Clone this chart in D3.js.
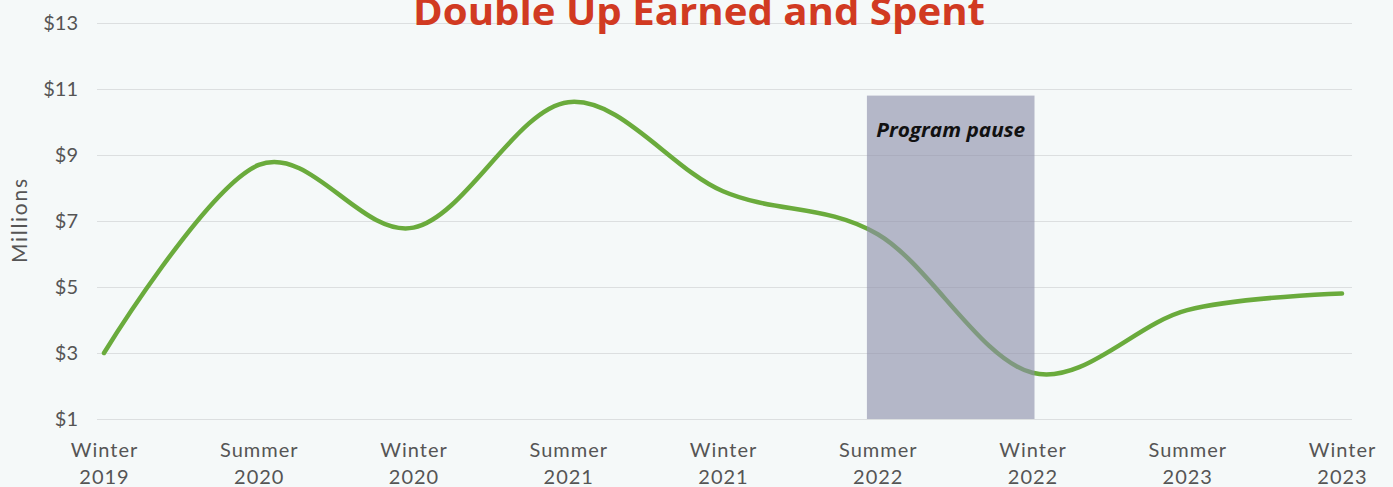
<!DOCTYPE html>
<html>
<head>
<meta charset="utf-8">
<script src="https://cdn.jsdelivr.net/npm/d3@7"></script>
<style>
  html, body { margin: 0; padding: 0; background: #f5f9f9; }
  svg { display: block; }
</style>
</head>
<body>
<div id="chart"></div>
<script>
// seasons along the x axis, two-line labels
const seasons = ["Winter 2019", "Summer 2020", "Winter 2020", "Summer 2021", "Winter 2021",
                 "Summer 2022", "Winter 2022", "Summer 2023", "Winter 2023"];
// Double Up earned and spent, millions of dollars
const amounts = [3.0, 8.7, 6.8, 10.6, 7.9, 6.6, 2.4, 4.3, 4.8];
const yTicks = [1, 3, 5, 7, 9, 11, 13];
const pauseRange = ["Summer 2022", "Winter 2022"];
const pauseLabel = "Program pause";
const title = "Double Up Earned and Spent";

const width = 1393;
const height = 487;
const gridLeft = 97, gridRight = 1352;
const font = "Lato, 'Open Sans', sans-serif";
const labelColor = "#555";

const svg = d3.select("#chart").append("svg")
    .attr("width", width)
    .attr("height", height);

svg.append("rect")
    .attr("width", width).attr("height", height)
    .attr("fill", "#f5f9f9");

const x = d3.scalePoint()
    .domain(seasons)
    .range([104, 1342]);

const y = d3.scaleLinear()
    .domain([1, 13])
    .range([419, 23]);

// gridlines
const grid = svg.append("g")
    .attr("transform", "translate(" + gridLeft + ",0)")
    .call(d3.axisLeft(y).tickValues(yTicks).tickSize(-(gridRight - gridLeft)).tickFormat(""));
grid.select(".domain").remove();
grid.selectAll(".tick line").attr("stroke", "#dcdfe0").attr("stroke-width", 1.2);

// y labels
const yAxis = svg.append("g")
    .attr("transform", "translate(78,0)")
    .call(d3.axisLeft(y).tickValues(yTicks).tickSize(0).tickPadding(0).tickFormat(d => "$" + d));
yAxis.select(".domain").remove();
yAxis.selectAll("text")
    .attr("font-family", font)
    .attr("font-size", 20)
    .attr("fill", labelColor);

svg.append("text")
    .attr("transform", "translate(27,221) rotate(-90)")
    .attr("text-anchor", "middle")
    .attr("font-family", font)
    .attr("font-size", 21)
    .attr("fill", labelColor)
    .attr("textLength", 84)
    .text("Millions");

// x labels
const xAxis = svg.append("g")
    .attr("transform", "translate(0,438)")
    .call(d3.axisBottom(x).tickSize(0).tickPadding(0).tickFormat(""));
xAxis.select(".domain").remove();
xAxis.selectAll(".tick").each(function (d) {
    const parts = d.split(" ");
    const t = d3.select(this).append("text")
        .attr("text-anchor", "middle")
        .attr("font-family", font)
        .attr("font-size", 20)
        .attr("fill", labelColor)
        .attr("letter-spacing", 1);
    t.append("tspan").attr("x", 0).attr("y", 19).text(parts[0]);
    t.append("tspan").attr("x", 0).attr("y", 46).text(parts[1]);
});

// line
const line = d3.line()
    .x((d, i) => x(seasons[i]))
    .y(d => y(d))
    .curve(d3.curveCardinal.tension(0));

svg.append("path")
    .datum(amounts)
    .attr("fill", "none")
    .attr("stroke", "#6aab3c")
    .attr("stroke-width", 4.5)
    .attr("stroke-linecap", "round")
    .attr("d", line);

// pause band, drawn over the line
const step = x.step();
const px0 = x(pauseRange[0]) - step * 0.07;
const px1 = x(pauseRange[1]) + 2;
svg.append("rect")
    .attr("x", px0)
    .attr("y", y(10.8))
    .attr("width", px1 - px0)
    .attr("height", y(1) - y(10.8))
    .attr("fill", "#8d8ea9")
    .attr("fill-opacity", 0.62);

svg.append("text")
    .attr("x", (px0 + px1) / 2)
    .attr("y", 137)
    .attr("text-anchor", "middle")
    .attr("font-family", "'Open Sans', sans-serif")
    .attr("font-weight", "bold")
    .attr("font-style", "italic")
    .attr("font-size", 19)
    .attr("fill", "#111")
    .attr("textLength", 149)
    .attr("lengthAdjust", "spacingAndGlyphs")
    .text(pauseLabel);

// title, clipped at the top as in the source
svg.append("text")
    .attr("x", 699)
    .attr("y", 25)
    .attr("text-anchor", "middle")
    .attr("font-family", "'Open Sans', sans-serif")
    .attr("font-weight", "bold")
    .attr("font-size", 37)
    .attr("fill", "#d13a22")
    .attr("textLength", 572)
    .attr("lengthAdjust", "spacingAndGlyphs")
    .text(title);
</script>
</body>
</html>
